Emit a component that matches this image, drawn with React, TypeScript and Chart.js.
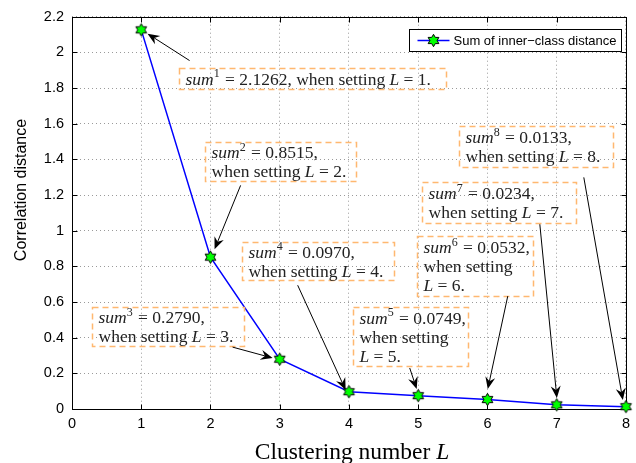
import React, { useEffect, useRef } from "react";
import { Chart, registerables } from "chart.js";

Chart.register(...registerables);

// ---------- data ----------
const clusterNumbers = [1, 2, 3, 4, 5, 6, 7, 8];
const innerClassDistance = [2.1262, 0.8515, 0.279, 0.097, 0.0749, 0.0532, 0.0234, 0.0133];
const xTickValues = [0, 1, 2, 3, 4, 5, 6, 7, 8];
const yTickValues = [0, 0.2, 0.4, 0.6, 0.8, 1, 1.2, 1.4, 1.6, 1.8, 2, 2.2];
const seriesLabel = "Sum of inner\u2212class distance";
const yAxisTitle = "Correlation distance";
const xAxisTitle = "Clustering number ";
const xAxisTitleVar = "L";

// annotation line layouts: how each note is broken into lines
const noteLineBreaks = [1, 2, 2, 2, 3, 3, 2, 2];

// annotation boxes [left, top, right, bottom] and arrows [x0, y0, x1, y1] in data coordinates
const noteBoxes = [
  [1.539, 1.915, 5.405, 1.792],
  [1.915, 1.495, 4.097, 1.277],
  [0.282, 0.571, 2.478, 0.353],
  [2.449, 0.935, 4.646, 0.722],
  [4.053, 0.571, 5.715, 0.241],
  [4.978, 0.969, 6.655, 0.633],
  [5.051, 1.271, 7.276, 1.041],
  [5.585, 1.585, 7.811, 1.355],
];
const noteArrows = [
  [1.698, 1.954, 1.091, 2.105],
  [2.435, 1.254, 2.059, 0.896],
  [2.319, 0.347, 2.897, 0.286],
  [3.259, 0.694, 3.952, 0.106],
  [4.877, 0.23, 4.978, 0.112],
  [6.293, 0.633, 6.004, 0.112],
  [6.756, 1.036, 7.002, 0.062],
  [7.391, 1.299, 7.955, 0.05],
];

type Seg = { t: string; s: "n" | "i" | "s" };

function buildNote(i: number): Seg[][] {
  const k = clusterNumbers[i];
  const v = innerClassDistance[i].toFixed(4);
  const head: Seg[] = [
    { t: "sum", s: "i" },
    { t: String(k), s: "s" },
    { t: " = " + v + ",", s: "n" },
  ];
  const when: Seg[] = [{ t: "when setting", s: "n" }];
  const lEq: Seg[] = [
    { t: "L", s: "i" },
    { t: " = " + k + ".", s: "n" },
  ];
  const n = noteLineBreaks[i];
  if (n === 1) return [[...head, { t: " ", s: "n" }, ...when, { t: " ", s: "n" }, ...lEq]];
  if (n === 2) return [head, [...when, { t: " ", s: "n" }, ...lEq]];
  return [head, when, lEq];
}

const SERIF = '"Liberation Serif", "DejaVu Serif", serif';
const SANS = '"Liberation Sans", Arial, sans-serif';

function segFont(s: string) {
  if (s === "i") return `italic 17.5px ${SERIF}`;
  if (s === "s") return `12px ${SERIF}`;
  return `17.5px ${SERIF}`;
}

function drawRich(ctx: CanvasRenderingContext2D, segs: Seg[], x: number, y: number) {
  let cx = x;
  for (const sg of segs) {
    ctx.font = segFont(sg.s);
    const dy = sg.s === "s" ? -6 : 0;
    ctx.fillText(sg.t, cx, y + dy);
    cx += ctx.measureText(sg.t).width + (sg.s === "s" ? 1 : 0);
  }
}

function makeHexagram(): HTMLCanvasElement {
  const c = document.createElement("canvas");
  const s = 15;
  c.width = s;
  c.height = s;
  const g = c.getContext("2d")!;
  const cx = s / 2,
    cy = s / 2,
    R = 6.2,
    r = R / Math.sqrt(3);
  g.beginPath();
  for (let k = 0; k < 12; k++) {
    const ang = -Math.PI / 2 + (k * Math.PI) / 6;
    const rad = k % 2 === 0 ? R : r;
    const px = cx + rad * Math.cos(ang);
    const py = cy + rad * Math.sin(ang);
    if (k === 0) g.moveTo(px, py);
    else g.lineTo(px, py);
  }
  g.closePath();
  g.fillStyle = "#00ff00";
  g.fill();
  g.strokeStyle = "#000";
  g.lineWidth = 1;
  g.stroke();
  return c;
}

function drawArrow(ctx: CanvasRenderingContext2D, x0: number, y0: number, x1: number, y1: number) {
  const ang = Math.atan2(y1 - y0, x1 - x0);
  const len = 12,
    half = 5,
    notch = 8;
  ctx.save();
  ctx.strokeStyle = "#000";
  ctx.fillStyle = "#000";
  ctx.lineWidth = 1;
  ctx.beginPath();
  ctx.moveTo(x0, y0);
  ctx.lineTo(x1 - notch * Math.cos(ang), y1 - notch * Math.sin(ang));
  ctx.stroke();
  const bx = x1 - len * Math.cos(ang),
    by = y1 - len * Math.sin(ang);
  const nx = -Math.sin(ang),
    ny = Math.cos(ang);
  ctx.beginPath();
  ctx.moveTo(x1, y1);
  ctx.lineTo(bx + nx * half, by + ny * half);
  ctx.lineTo(x1 - notch * Math.cos(ang), y1 - notch * Math.sin(ang));
  ctx.lineTo(bx - nx * half, by - ny * half);
  ctx.closePath();
  ctx.fill();
  ctx.restore();
}

export default function App() {
  const ref = useRef<HTMLCanvasElement | null>(null);

  useEffect(() => {
    document.body.style.margin = "0";
    const canvas = ref.current!;
    const marker = makeHexagram();

    const framePlugin = {
      id: "frame",
      beforeDatasetsDraw(chart: any) {
        const { ctx, chartArea: a, scales } = chart;
        ctx.save();
        ctx.strokeStyle = "#000";
        ctx.lineWidth = 1;
        const L = Math.round(a.left) + 0.5,
          R = Math.round(a.right) + 0.5,
          T = Math.round(a.top) + 0.5,
          B = Math.round(a.bottom) + 0.5;
        ctx.strokeRect(L, T, R - L, B - T);
        ctx.beginPath();
        for (const v of xTickValues) {
          const px = Math.round(scales.x.getPixelForValue(v)) + 0.5;
          ctx.moveTo(px, B);
          ctx.lineTo(px, B - 5);
          ctx.moveTo(px, T);
          ctx.lineTo(px, T + 5);
        }
        for (const v of yTickValues) {
          const py = Math.round(scales.y.getPixelForValue(v)) + 0.5;
          ctx.moveTo(L, py);
          ctx.lineTo(L + 5, py);
          ctx.moveTo(R, py);
          ctx.lineTo(R - 5, py);
        }
        ctx.stroke();
        ctx.restore();
      },
      afterDatasetsDraw(chart: any) {
        const { ctx, scales, chartArea: a } = chart;
        const X = (v: number) => scales.x.getPixelForValue(v);
        const Y = (v: number) => scales.y.getPixelForValue(v);
        ctx.save();
        // notes
        for (let i = 0; i < noteBoxes.length; i++) {
          const [l, t, r, b] = noteBoxes[i];
          const x0 = Math.round(X(l)) + 0.5,
            y0 = Math.round(Y(t)) + 0.5,
            x1 = Math.round(X(r)) + 0.5,
            y1 = Math.round(Y(b)) + 0.5;
          ctx.save();
          ctx.strokeStyle = "#ffb870";
          ctx.lineWidth = 1.5;
          ctx.setLineDash([6, 4]);
          ctx.strokeRect(x0, y0, x1 - x0, y1 - y0);
          ctx.restore();
          const lines = buildNote(i);
          const lh = 19;
          const cy = (y0 + y1) / 2;
          const startY = cy - ((lines.length - 1) * lh) / 2;
          ctx.fillStyle = "#222";
          ctx.textBaseline = "middle";
          ctx.textAlign = "left";
          lines.forEach((ln, j) => drawRich(ctx, ln, x0 + 6, startY + j * lh + 1));
          const [ax0, ay0, ax1, ay1] = noteArrows[i];
          drawArrow(ctx, X(ax0), Y(ay0), X(ax1), Y(ay1));
        }
        // legend
        const lx = 409.5,
          ly = 29.5,
          lw = 212,
          lhh = 22;
        ctx.fillStyle = "#fff";
        ctx.fillRect(lx, ly, lw, lhh);
        ctx.strokeStyle = "#000";
        ctx.lineWidth = 1;
        ctx.strokeRect(lx, ly, lw, lhh);
        ctx.strokeStyle = "#0000ff";
        ctx.lineWidth = 1.5;
        ctx.beginPath();
        ctx.moveTo(lx + 8, ly + lhh / 2);
        ctx.lineTo(lx + 40, ly + lhh / 2);
        ctx.stroke();
        ctx.drawImage(marker, lx + 24 - marker.width / 2, ly + lhh / 2 - marker.height / 2);
        ctx.fillStyle = "#000";
        ctx.font = `13px ${SANS}`;
        ctx.textBaseline = "middle";
        ctx.fillText(seriesLabel, lx + 44, ly + lhh / 2 + 1);
        // axis titles
        ctx.fillStyle = "#000";
        ctx.font = `16px ${SANS}`;
        ctx.textAlign = "center";
        ctx.save();
        ctx.translate(22, 190);
        ctx.rotate(-Math.PI / 2);
        ctx.fillText(yAxisTitle, 0, 0);
        ctx.restore();
        ctx.textBaseline = "alphabetic";
        ctx.font = `23.5px ${SERIF}`;
        const w1 = ctx.measureText(xAxisTitle).width;
        ctx.font = `italic 23.5px ${SERIF}`;
        const w2 = ctx.measureText(xAxisTitleVar).width;
        const startX = 352 - (w1 + w2) / 2;
        ctx.textAlign = "left";
        ctx.font = `23.5px ${SERIF}`;
        ctx.fillText(xAxisTitle, startX, 459);
        ctx.font = `italic 23.5px ${SERIF}`;
        ctx.fillText(xAxisTitleVar, startX + w1, 459);
        ctx.restore();
      },
    };

    const chart = new Chart(canvas, {
      type: "line",
      data: {
        datasets: [
          {
            label: seriesLabel,
            data: clusterNumbers.map((x, i) => ({ x, y: innerClassDistance[i] })),
            borderColor: "#0000ff",
            borderWidth: 1.5,
            pointStyle: marker as any,
            pointRadius: 7,
            tension: 0,
            clip: false as any,
          },
        ],
      },
      options: {
        animation: false,
        responsive: false,
        maintainAspectRatio: false,
        layout: { padding: { top: 16, right: 9, left: 0, bottom: 0 } },
        plugins: { legend: { display: false }, tooltip: { enabled: false } },
        scales: {
          x: {
            type: "linear",
            min: 0,
            max: 8,
            afterFit: (s: any) => {
              s.height = 54;
            },
            afterBuildTicks: (s: any) => {
              s.ticks = xTickValues.map((v) => ({ value: v }));
            },
            ticks: {
              color: "#000",
              font: { family: SANS, size: 14.5 },
              padding: 6,
              maxRotation: 0,
              callback: (v: any) => String(v),
            },
            grid: { color: "#9a9a9a", lineWidth: 1, drawTicks: false },
            border: { display: false, dash: [1, 3] },
          },
          y: {
            type: "linear",
            min: 0,
            max: 2.2,
            afterFit: (s: any) => {
              s.width = 72;
            },
            afterBuildTicks: (s: any) => {
              s.ticks = yTickValues.map((v) => ({ value: v }));
            },
            ticks: {
              color: "#000",
              font: { family: SANS, size: 14.5 },
              padding: 8,
              callback: (v: any) => String(Number(Number(v).toFixed(1))),
            },
            grid: { color: "#9a9a9a", lineWidth: 1, drawTicks: false },
            border: { display: false, dash: [1, 3] },
          },
        },
      },
      plugins: [framePlugin],
    });
    return () => chart.destroy();
  }, []);

  return <canvas ref={ref} width={636} height={463} style={{ display: "block", width: 636, height: 463 }} />;
}
